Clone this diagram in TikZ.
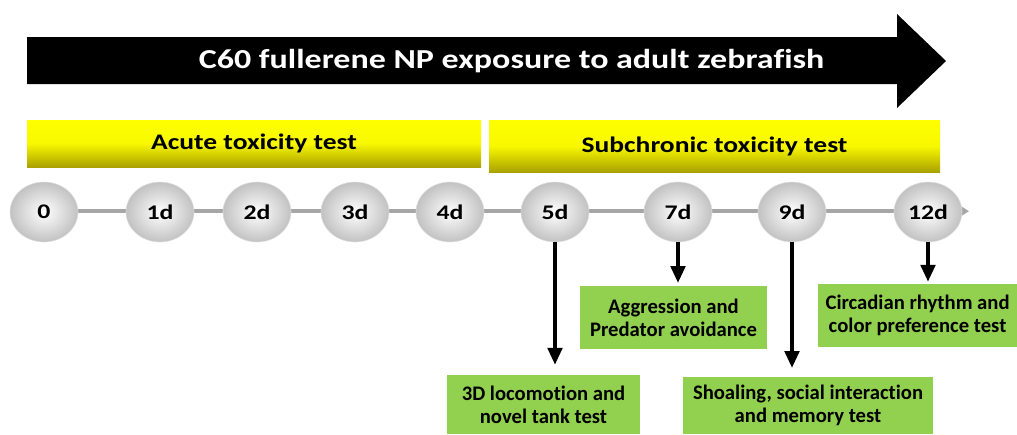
\documentclass[tikz,border=0pt]{standalone}
\usepackage{fontspec}
\setmainfont[Ligatures=NoCommon]{Carlito}
\newfontfamily\widefont[FakeStretch=1.24, Ligatures=NoCommon]{Carlito}
\usetikzlibrary{positioning, calc, arrows.meta, shapes.geometric}

\definecolor{testgreen}{RGB}{146,208,80}
\definecolor{barolive}{RGB}{170,162,0}
\definecolor{linegray}{RGB}{166,166,166}

\begin{document}
\begin{tikzpicture}[
  day/.style      = {ellipse, minimum width=1.7cm, minimum height=1.5cm,
                     inner sep=0pt, draw=black!12, shading=radial,
                     inner color=white, outer color=black!24,
                     font=\widefont\fontsize{14.8}{17}\selectfont\bfseries},
  phase/.style    = {inner sep=0pt, top color=yellow, bottom color=barolive,
                     middle color=yellow!92!barolive,
                     font=\widefont\fontsize{15.8}{19}\selectfont\bfseries},
  testbox/.style  = {fill=testgreen, align=center, inner sep=0pt,
                     font=\fontsize{14.7}{16.5}\selectfont\bfseries},
  testarr/.style  = {-{Triangle[length=4.2mm, width=3.6mm]}, line width=2.6pt},
  tl/.style       = {-{Triangle[length=2.2mm, width=2.6mm]}, line width=3pt,
                     draw=linegray},
]
\useasboundingbox (0,0) rectangle (25.425,-10.85);

% ---- exposure arrow ----------------------------------------------------------
\fill (0.675,-0.925) -- (22.425,-0.925) -- (22.425,-0.35) -- (23.65,-1.525)
  -- (22.425,-2.7) -- (22.425,-2.1) -- (0.675,-2.1) -- cycle;
\node[text=white, font=\widefont\fontsize{19.5}{23}\selectfont\bfseries] (title) at (12.79,-1.525)
  {C60 fullerene NP exposure to adult zebrafish};

% ---- test phases -------------------------------------------------------------
\node[phase, minimum width=11.35cm, minimum height=1.175cm] (acute) at (6.35,-3.5875)
  {Acute toxicity test};
\node[phase, minimum width=11.275cm, minimum height=1.3cm] (subchr) at (17.8625,-3.65)
  {Subchronic toxicity test};

% ---- time line ---------------------------------------------------------------
\coordinate (tlstart) at (1.0,-5.28);
\coordinate (tlend) at (24.225,-5.28);
\draw[tl] (tlstart) -- (tlend);

\foreach \x/\lab/\nm in {1.1/0/d0, 4.0/1d/d1, 6.425/2d/d2, 8.875/3d/d3,
                         11.25/4d/d4, 13.875/5d/d5, 16.95/7d/d7, 19.8/9d/d9,
                         23.2/12d/d12}
  \node[day] (\nm) at (\x,-5.3) {\lab};

% ---- behaviour tests ---------------------------------------------------------
\node[testbox, minimum width=4.825cm, minimum height=1.475cm] (loco) at (13.5875,-10.1125)
  {3D locomotion and\\novel tank test};
\node[testbox, minimum width=4.675cm, minimum height=1.575cm] (aggr) at (16.8375,-7.9375)
  {Aggression and\\Predator avoidance};
\node[testbox, minimum width=6.25cm, minimum height=1.425cm] (shoal) at (20.2,-10.1375)
  {Shoaling, social interaction\\and memory test};
\node[testbox, minimum width=4.975cm, minimum height=1.575cm] (circ) at (22.94,-7.8875)
  {Circadian rhythm and\\color preference test};

% day -> test
\draw[testarr, shorten >=0.25cm] (d5.south) -- (d5.south |- loco.north);
\draw[testarr, shorten >=0.07cm] (d7.south) -- (d7.south |- aggr.north);
\draw[testarr, shorten >=0.22cm] (d9.south) -- (d9.south |- shoal.north);
\draw[testarr, shorten >=0.05cm] (d12.south) -- (d12.south |- circ.north);

\end{tikzpicture}
\end{document}
